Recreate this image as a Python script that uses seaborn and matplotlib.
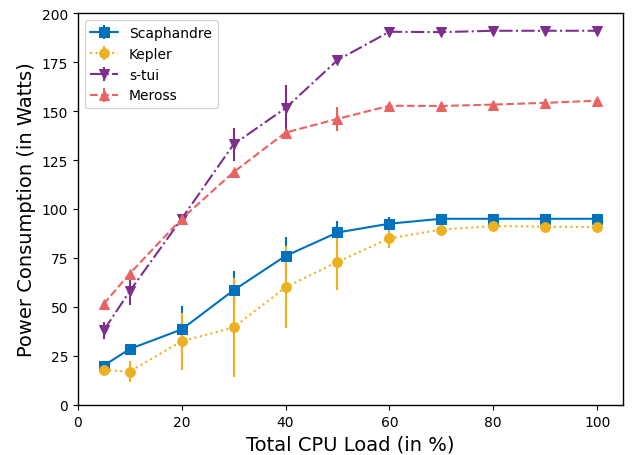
import numpy as np
import pandas as pd
import seaborn as sns
import matplotlib.pyplot as plt
from matplotlib.legend_handler import HandlerTuple

# CPU load steps (%)
cpu_load = [5, 10, 20, 30, 40, 50, 60, 70, 80, 90, 100]

# mean power (W) and std per tool
scaphandre = [20, 28.5, 38.5, 58.5, 76, 88, 92.5, 95, 95, 95, 95]
scaphandre_err = [1.5, 1.5, 12, 10, 9.5, 6, 3.5, 1.5, 1, 1, 1]

kepler = [17.8, 17, 32.5, 39.5, 60, 73, 85, 89.5, 91.3, 91, 90.7]
kepler_err = [2, 5.5, 14.5, 25.5, 21, 14.5, 5, 1.5, 1, 1, 1]

stui = [38, 58, 95, 133, 151.5, 176, 190.5, 190.3, 191, 191, 191]
stui_err = [4.5, 7, 2, 8.5, 12, 2, 1, 1, 1, 1, 1]

meross = [51.5, 67, 95, 118.8, 139, 146, 152.7, 152.6, 153.3, 154.2, 155.3]
meross_err = [1, 1, 1, 1, 1, 6, 1, 1, 1, 1, 1]

series = [
    ("Scaphandre", scaphandre, scaphandre_err, "#0072BD", "s", "-"),
    ("Kepler", kepler, kepler_err, "#EDB120", "o", ":"),
    ("s-tui", stui, stui_err, "#7E2F8E", "v", "-."),
    ("Meross", meross, meross_err, "#EA6363", "^", "--"),
]

sns.set_style("ticks", {"axes.edgecolor": "black", "text.color": "black",
                        "axes.labelcolor": "black", "xtick.color": "black",
                        "ytick.color": "black"})
plt.rcParams["font.family"] = ["DejaVu Sans"]

fig, ax = plt.subplots(figsize=(6.32, 4.56), dpi=100)
fig.subplots_adjust(left=0.123, right=0.986, top=0.969, bottom=0.11)

handles = []
for name, vals, errs, color, marker, ls in series:
    df = pd.DataFrame({"load": cpu_load, "power": vals})
    sns.lineplot(data=df, x="load", y="power", color=color, marker=marker,
                 linestyle=ls, linewidth=1.5, markersize=7,
                 markeredgecolor=color, ax=ax, legend=False)
    line = ax.lines[-1]
    eb = ax.errorbar(cpu_load, vals, yerr=errs, fmt="none", ecolor=color,
                     elinewidth=1.5, capsize=0, zorder=line.get_zorder() - 0.1)
    handles.append(((line, eb), name))

ax.legend([h for h, _ in handles], [n for _, n in handles], loc="upper left",
          fontsize=10, handler_map={tuple: HandlerTuple(ndivide=1)},
          handlelength=2, framealpha=0.8)

ax.set_xlim(0, 105)
ax.set_ylim(0, 200)
ax.set_xticks([0, 20, 40, 60, 80, 100])
ax.set_yticks(np.arange(0, 201, 25))
ax.tick_params(labelsize=10, colors="black")
ax.set_xlabel("Total CPU Load (in %)", fontsize=14)
ax.set_ylabel("Power Consumption (in Watts)", fontsize=14)
for s in ax.spines.values():
    s.set_visible(True)
    s.set_linewidth(1.0)
    s.set_color("black")

fig.savefig("out.png")
